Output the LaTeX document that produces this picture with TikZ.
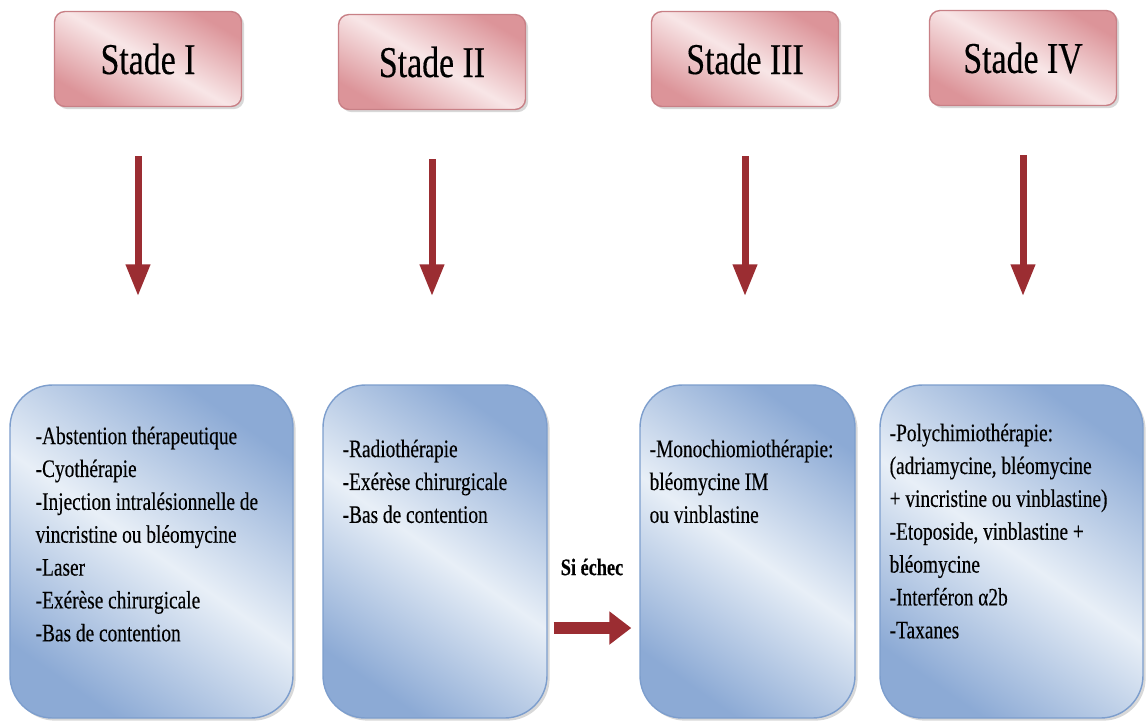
\documentclass[tikz,border=0pt]{standalone}
\usepackage{fontspec}
\setmainfont{Liberation Serif}[FakeStretch=0.77,FakeBold=0.3]
\usetikzlibrary{positioning,shadows,arrows.meta}

\definecolor{rosefonce}{RGB}{220,148,153}
\definecolor{roseclair}{RGB}{248,230,231}
\definecolor{rosebord}{RGB}{200,128,134}
\definecolor{bleufonce}{RGB}{140,170,213}
\definecolor{bleuclair}{RGB}{232,239,247}
\definecolor{bleubord}{RGB}{125,158,205}
\definecolor{rougefleche}{RGB}{155,45,50}

\tikzstyle{stade} = [draw=rosebord, thick, rectangle, rounded corners=6pt,
  minimum width=3.74cm, minimum height=1.9cm,
  top color=rosefonce, bottom color=rosefonce, middle color=roseclair,
  shading angle=-30,
  drop shadow={shadow xshift=1.5pt, shadow yshift=-1.5pt, fill=gray!60},
  font=\fontsize{25}{29}\selectfont]
\tikzstyle{traitement} = [draw=bleubord, thick, rectangle, rounded corners=0.85cm,
  minimum height=6.66cm,
  top color=bleufonce, bottom color=bleufonce, middle color=bleuclair,
  shading angle=-35,
  drop shadow={shadow xshift=1.5pt, shadow yshift=-1.5pt, fill=gray!60}]
\tikzstyle{liste} = [align=left, inner sep=0pt,
  font=\fontsize{14.3}{18.7}\selectfont]
\tikzstyle{fleche} = [draw=rougefleche, line width=0.14cm,
  -{Triangle[width=0.46cm,length=0.64cm]}, rougefleche,
  shorten <=0.98cm, shorten >=1.76cm]
\tikzstyle{flecheh} = [draw=rougefleche, line width=0.24cm,
  -{Triangle[width=0.64cm,length=0.44cm]}, rougefleche,
  shorten <=0.12cm, shorten >=0.16cm]

\begin{document}
\begin{tikzpicture}
        \useasboundingbox (0,0) rectangle (22.92,-14.48);

        \node [stade] (stadeI)   at ( 2.96,-1.18) {Stade I};
        \node [stade] (stadeII)  at ( 8.64,-1.24) {Stade II};
        \node [stade] (stadeIII) at (14.90,-1.18) {Stade III};
        \node [stade] (stadeIV)  at (20.46,-1.16) {Stade IV};

        \node [traitement, minimum width=5.66cm] (traitI)   at ( 3.03,-11.03) {};
        \node [traitement, minimum width=4.48cm] (traitII)  at ( 8.70,-11.03) {};
        \node [traitement, minimum width=4.30cm] (traitIII) at (14.95,-11.03) {};
        \node [traitement, minimum width=5.26cm] (traitIV)  at (20.23,-11.03) {};

        \node [liste, below right=0.84cm and 0.52cm of traitI.north west] (listeI)
          {-Abstention thérapeutique\\-Cyothérapie\\-Injection intralésionnelle de\\
           vincristine ou bléomycine\\-Laser\\-Exérèse chirurgicale\\-Bas de contention};
        \node [liste, below right=1.1cm and 0.4cm of traitII.north west] (listeII)
          {-Radiothérapie\\-Exérèse chirurgicale\\-Bas de contention};
        \node [liste, below right=1.1cm and 0.2cm of traitIII.north west] (listeIII)
          {-Monochiomiothérapie:\\bléomycine IM\\ou vinblastine};
        \node [liste, below right=0.78cm and 0.2cm of traitIV.north west] (listeIV)
          {-Polychimiothérapie:\\(adriamycine, bléomycine\\+ vincristine ou vinblastine)\\
           -Etoposide, vinblastine +\\bléomycine\\-Interféron α2b\\-Taxanes};

        \node [font=\fontsize{13.5}{16}\selectfont\bfseries] (siechec) at (11.84,-11.34) {Si échec};

        \draw[fleche] ([xshift=-0.2cm]stadeI.south) -- ([xshift=-0.2cm]stadeI.south |- traitI.north);
        \draw[fleche] (stadeII.south)  -- (stadeII.south |- traitII.north);
        \draw[fleche] (stadeIII.south) -- (stadeIII.south |- traitIII.north);
        \draw[fleche] (stadeIV.south)  -- (stadeIV.south |- traitIV.north);
        \draw[flecheh] ([yshift=-1.53cm]traitII.east) -- ([yshift=-1.53cm]traitII.east -| traitIII.west);
      \end{tikzpicture}
\end{document}
